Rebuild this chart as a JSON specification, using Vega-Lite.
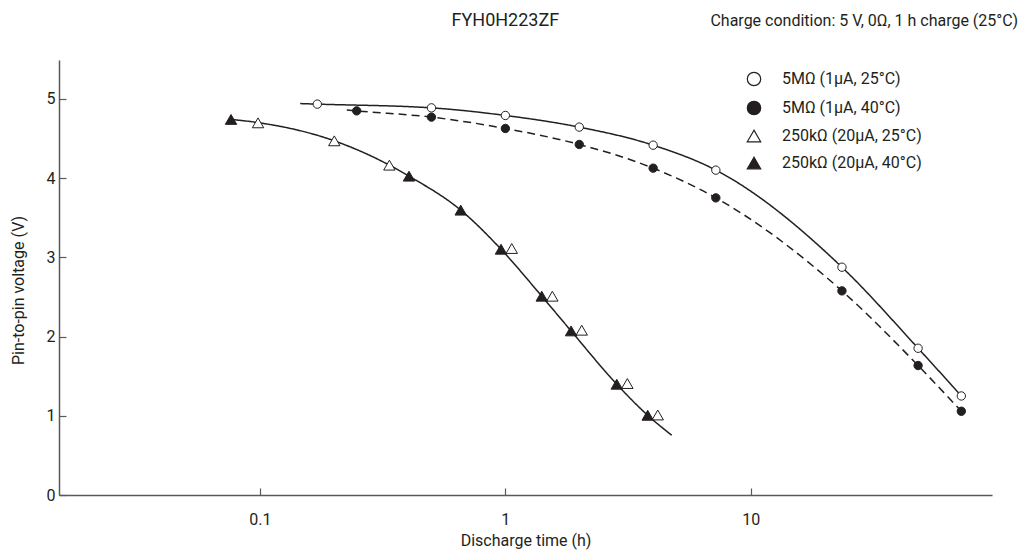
{
  "$schema": "https://vega.github.io/schema/vega-lite/v6.json",
  "autosize": {"type": "none"},
  "padding": {"left": 59, "top": 60, "right": 31, "bottom": 56},
  "width": 933,
  "height": 435,
  "background": "white",
  "config": {
    "font": "Roboto",
    "view": {"stroke": null},
    "axis": {
      "grid": false,
      "domainColor": "#58595b",
      "domainWidth": 1.5,
      "tickColor": "#58595b",
      "tickWidth": 1.2,
      "tickSize": -7,
      "labelFont": "Roboto",
      "labelFontSize": 16,
      "labelColor": "#231f20",
      "titleFont": "Roboto",
      "titleFontSize": 16,
      "titleFontWeight": "normal",
      "titleColor": "#231f20"
    }
  },
  "datasets": {
    "curves": [
      {"curve": "a", "t": 0.146, "v": 4.94},
      {"curve": "a", "t": 0.1714, "v": 4.933},
      {"curve": "a", "t": 0.5, "v": 4.886},
      {"curve": "a", "t": 1.0, "v": 4.79},
      {"curve": "a", "t": 2.0, "v": 4.643},
      {"curve": "a", "t": 4.0, "v": 4.415},
      {"curve": "a", "t": 7.2, "v": 4.1},
      {"curve": "a", "t": 23.5, "v": 2.875},
      {"curve": "a", "t": 48, "v": 1.852},
      {"curve": "a", "t": 72, "v": 1.25},
      {"curve": "b", "t": 0.226, "v": 4.86},
      {"curve": "b", "t": 0.248, "v": 4.848},
      {"curve": "b", "t": 0.5, "v": 4.769},
      {"curve": "b", "t": 1.0, "v": 4.626},
      {"curve": "b", "t": 2.0, "v": 4.424},
      {"curve": "b", "t": 4.0, "v": 4.125},
      {"curve": "b", "t": 7.2, "v": 3.75},
      {"curve": "b", "t": 23.5, "v": 2.576},
      {"curve": "b", "t": 48, "v": 1.634},
      {"curve": "b", "t": 72, "v": 1.057},
      {"curve": "c", "t": 0.0763, "v": 4.74},
      {"curve": "c", "t": 0.0983, "v": 4.7},
      {"curve": "c", "t": 0.201, "v": 4.47},
      {"curve": "c", "t": 0.337, "v": 4.163},
      {"curve": "c", "t": 0.405, "v": 4.024},
      {"curve": "c", "t": 0.658, "v": 3.595},
      {"curve": "c", "t": 0.96, "v": 3.102},
      {"curve": "c", "t": 1.407, "v": 2.509},
      {"curve": "c", "t": 1.852, "v": 2.071},
      {"curve": "c", "t": 2.843, "v": 1.398},
      {"curve": "c", "t": 3.8, "v": 1.006},
      {"curve": "c", "t": 4.76, "v": 0.754}
    ],
    "points": [
      {"series": "5MΩ (1μA, 25°C)", "t": 0.1714, "v": 4.933},
      {"series": "5MΩ (1μA, 25°C)", "t": 0.5, "v": 4.886},
      {"series": "5MΩ (1μA, 25°C)", "t": 1.0, "v": 4.79},
      {"series": "5MΩ (1μA, 25°C)", "t": 2.0, "v": 4.643},
      {"series": "5MΩ (1μA, 25°C)", "t": 4.0, "v": 4.415},
      {"series": "5MΩ (1μA, 25°C)", "t": 7.2, "v": 4.1},
      {"series": "5MΩ (1μA, 25°C)", "t": 23.5, "v": 2.875},
      {"series": "5MΩ (1μA, 25°C)", "t": 48, "v": 1.852},
      {"series": "5MΩ (1μA, 25°C)", "t": 72, "v": 1.25},
      {"series": "5MΩ (1μA, 40°C)", "t": 0.248, "v": 4.848},
      {"series": "5MΩ (1μA, 40°C)", "t": 0.5, "v": 4.769},
      {"series": "5MΩ (1μA, 40°C)", "t": 1.0, "v": 4.626},
      {"series": "5MΩ (1μA, 40°C)", "t": 2.0, "v": 4.424},
      {"series": "5MΩ (1μA, 40°C)", "t": 4.0, "v": 4.125},
      {"series": "5MΩ (1μA, 40°C)", "t": 7.2, "v": 3.75},
      {"series": "5MΩ (1μA, 40°C)", "t": 23.5, "v": 2.576},
      {"series": "5MΩ (1μA, 40°C)", "t": 48, "v": 1.634},
      {"series": "5MΩ (1μA, 40°C)", "t": 72, "v": 1.057},
      {"series": "250kΩ (20μA, 25°C)", "t": 0.0983, "v": 4.697},
      {"series": "250kΩ (20μA, 25°C)", "t": 0.201, "v": 4.47},
      {"series": "250kΩ (20μA, 25°C)", "t": 0.337, "v": 4.163},
      {"series": "250kΩ (20μA, 25°C)", "t": 1.062, "v": 3.111},
      {"series": "250kΩ (20μA, 25°C)", "t": 1.554, "v": 2.509},
      {"series": "250kΩ (20μA, 25°C)", "t": 2.047, "v": 2.08},
      {"series": "250kΩ (20μA, 25°C)", "t": 3.14, "v": 1.407},
      {"series": "250kΩ (20μA, 25°C)", "t": 4.176, "v": 1.01},
      {"series": "250kΩ (20μA, 40°C)", "t": 0.0763, "v": 4.74},
      {"series": "250kΩ (20μA, 40°C)", "t": 0.405, "v": 4.024},
      {"series": "250kΩ (20μA, 40°C)", "t": 0.658, "v": 3.595},
      {"series": "250kΩ (20μA, 40°C)", "t": 0.96, "v": 3.102},
      {"series": "250kΩ (20μA, 40°C)", "t": 1.407, "v": 2.509},
      {"series": "250kΩ (20μA, 40°C)", "t": 1.852, "v": 2.071},
      {"series": "250kΩ (20μA, 40°C)", "t": 2.843, "v": 1.398},
      {"series": "250kΩ (20μA, 40°C)", "t": 3.8, "v": 1.006}
    ],
    "labels": [
      {"label": "FYH0H223ZF", "t": 1.0, "v": 5.98, "pos": "center"},
      {"label": "Charge condition: 5 V, 0Ω, 1 h charge (25°C)", "t": 122.6, "v": 5.98, "pos": "right"}
    ]
  },
  "layer": [
    {
      "data": {"name": "curves"},
      "mark": {"type": "line", "interpolate": "monotone", "color": "#231f20", "strokeWidth": 1.5},
      "encoding": {
        "x": {
          "field": "t", "type": "quantitative",
          "scale": {"type": "log", "domain": [0.0152, 96], "nice": false},
          "axis": {"values": [0.1, 1, 10], "format": "~g", "title": "Discharge time (h)", "labelPadding": 23, "titlePadding": 5}
        },
        "y": {
          "field": "v", "type": "quantitative",
          "scale": {"domain": [0, 5.49], "nice": false, "zero": false},
          "axis": {"values": [0, 1, 2, 3, 4, 5], "format": "d", "title": "Pin-to-pin voltage (V)", "labelPadding": 11, "titleX": -33, "titleY": 230}
        },
        "detail": {"field": "curve"},
        "strokeDash": {
          "field": "curve", "type": "nominal",
          "scale": {"domain": ["a", "b", "c"], "range": [[1, 0], [8, 5], [1, 0]]},
          "legend": null
        }
      }
    },
    {
      "data": {"name": "points"},
      "transform": [{"filter": "indexof(datum.series, '5M') == 0"}],
      "mark": {"type": "point", "filled": true, "strokeWidth": 1, "opacity": 1, "size": 70},
      "encoding": {
        "x": {"field": "t", "type": "quantitative"},
        "y": {"field": "v", "type": "quantitative"},
        "shape": {
          "field": "series", "type": "nominal",
          "scale": {
            "domain": ["5MΩ (1μA, 25°C)", "5MΩ (1μA, 40°C)", "250kΩ (20μA, 25°C)", "250kΩ (20μA, 40°C)"],
            "range": ["circle", "circle", "triangle-up", "triangle-up"]
          },
          "legend": {
            "orient": "none", "legendX": 687, "legendY": 11, "title": null, "padding": 0,
            "symbolSize": 180, "symbolStrokeWidth": 1.2,
            "labelFont": "Roboto", "labelFontSize": 16, "labelColor": "#231f20", "labelOffset": 20, "rowPadding": 9
          }
        },
        "fill": {
          "field": "series", "type": "nominal",
          "scale": {
            "domain": ["5MΩ (1μA, 25°C)", "5MΩ (1μA, 40°C)", "250kΩ (20μA, 25°C)", "250kΩ (20μA, 40°C)"],
            "range": ["white", "#231f20", "white", "#231f20"]
          }
        },
        "stroke": {
          "field": "series", "type": "nominal",
          "scale": {
            "domain": ["5MΩ (1μA, 25°C)", "5MΩ (1μA, 40°C)", "250kΩ (20μA, 25°C)", "250kΩ (20μA, 40°C)"],
            "range": ["#231f20", "#231f20", "#231f20", "#231f20"]
          }
        }
      }
    },
    {
      "data": {"name": "points"},
      "transform": [{"filter": "indexof(datum.series, '250k') == 0"}],
      "mark": {"type": "point", "filled": true, "strokeWidth": 1, "opacity": 1, "size": 130},
      "encoding": {
        "x": {"field": "t", "type": "quantitative"},
        "y": {"field": "v", "type": "quantitative"},
        "shape": {"field": "series", "type": "nominal"},
        "fill": {"field": "series", "type": "nominal"},
        "stroke": {"field": "series", "type": "nominal"}
      }
    },
    {
      "data": {"name": "labels"},
      "transform": [{"filter": "datum.pos == 'center'"}],
      "mark": {"type": "text", "fontSize": 18, "color": "#231f20", "baseline": "middle", "align": "center"},
      "encoding": {
        "x": {"field": "t", "type": "quantitative"},
        "y": {"field": "v", "type": "quantitative"},
        "text": {"field": "label"}
      }
    },
    {
      "data": {"name": "labels"},
      "transform": [{"filter": "datum.pos == 'right'"}],
      "mark": {"type": "text", "fontSize": 16, "color": "#231f20", "baseline": "middle", "align": "right"},
      "encoding": {
        "x": {"field": "t", "type": "quantitative"},
        "y": {"field": "v", "type": "quantitative"},
        "text": {"field": "label"}
      }
    }
  ]
}
